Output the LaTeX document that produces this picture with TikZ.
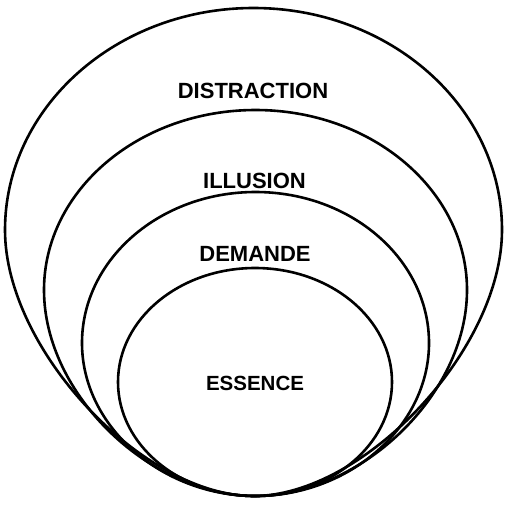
\documentclass[tikz,border=0pt]{standalone}
\usepackage{fontspec}
\setmainfont{Liberation Sans}
\begin{document}
\begin{tikzpicture}[x=1pt,y=-1pt,
  ring/.style={draw=black,line width=2.6pt},
  lbl/.style={font=\bfseries\fontsize{22}{26}\selectfont,inner sep=0pt,anchor=center}]
\useasboundingbox[fill=white] (0,0) rectangle (510,504);
% outer (egg shaped)
\draw[ring] (5,230) arc[start angle=180,end angle=360,x radius=248.5,y radius=222]
  .. controls (502,350) and (363.5,496) .. (253.5,496)
  .. controls (143.5,496) and (5,350) .. cycle;
% second
\draw[ring] (44,290) arc[start angle=180,end angle=360,x radius=211.5,y radius=180]
  .. controls (467,395) and (360.5,496) .. (255.5,496)
  .. controls (150.5,496) and (44,395) .. cycle;
% third
\draw[ring] (82,343) arc[start angle=180,end angle=360,x radius=173.5,y radius=151]
  .. controls (429,427) and (348.5,496) .. (255.5,496)
  .. controls (162.5,496) and (82,427) .. cycle;
% inner
\draw[ring] (255,382) ellipse [x radius=137, y radius=114];
\node[lbl] (distraction) at (253,91) {DISTRACTION};
\node[lbl] (illusion) at (254.5,181) {ILLUSION};
\node[lbl] (demande) at (255,254) {DEMANDE};
\node[lbl,font=\bfseries\fontsize{20.5}{24}\selectfont] (essence) at (255,383) {ESSENCE};
\end{tikzpicture}
\end{document}
